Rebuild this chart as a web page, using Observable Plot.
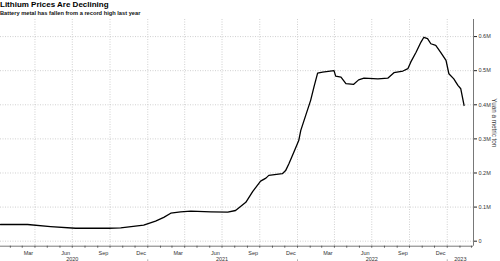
<!DOCTYPE html>
<html><head><meta charset="utf-8">
<script src="https://cdn.jsdelivr.net/npm/d3@7"></script>
<script src="https://cdn.jsdelivr.net/npm/@observablehq/plot@0.6"></script>
<style>
body{margin:0;background:#fff;width:500px;height:261px;overflow:hidden;font-family:"Liberation Sans",Arial,sans-serif}
#t{font-weight:bold;font-size:8px;line-height:9px;height:9px;color:#000;white-space:nowrap}
#s{font-weight:bold;font-size:5.7px;line-height:8px;height:8px;color:#111;white-space:nowrap}
svg{display:block}
</style></head><body>
<div id="t">Lithium Prices Are Declining</div>
<div id="s">Battery metal has fallen from a record high last year</div>
<div id="c"></div>
<script>
const dates = ["2020-01-08","2020-03-14","2020-05-09","2020-07-09","2020-09-28","2020-10-27","2020-12-22",
"2021-01-20","2021-02-09","2021-02-26","2021-03-22","2021-04-16","2021-06-04","2021-07-15","2021-08-03",
"2021-08-28","2021-09-14","2021-10-03","2021-10-16","2021-10-23","2021-11-25","2021-12-03","2021-12-11",
"2021-12-23","2022-01-04","2022-01-09","2022-01-21","2022-02-02","2022-02-10","2022-02-19","2022-03-03",
"2022-03-31","2022-04-04","2022-04-17","2022-04-29","2022-05-18","2022-05-30","2022-06-12","2022-07-16",
"2022-08-09","2022-08-24","2022-09-15","2022-09-27","2022-10-04","2022-10-17","2022-10-29","2022-11-05",
"2022-11-14","2022-11-22","2022-12-04","2022-12-16","2022-12-29","2023-01-05","2023-01-17","2023-01-27",
"2023-02-03","2023-02-11"];
const prices = [49000,49000,43000,38000,38000,39000,47000,
59000,70000,82000,86000,88000,86000,85000,90000,
114000,146000,176000,185000,193000,198000,207000,227000,
261000,295000,325000,369000,413000,452000,493000,496000,
500000,484000,481000,462000,460000,473000,478000,476000,
478000,494000,499000,506000,525000,554000,584000,598000,
594000,579000,574000,554000,530000,491000,476000,457000,
447000,398000];
const yTicks = [0,100000,200000,300000,400000,500000,600000];
const yTickLabels = ["0","0.1M","0.2M","0.3M","0.4M","0.5M","0.6M"];
const monthLabels = ["Mar","Jun","Sep","Dec","Mar","Jun","Sep","Dec","Mar","Jun","Sep","Dec"];
const monthLabelDates = ["2020-03-16","2020-06-15","2020-09-15","2020-12-16","2021-03-16","2021-06-15","2021-09-15","2021-12-16","2022-03-16","2022-06-15","2022-09-15","2022-12-16"];
const yearLabels = ["2020","2021","2022","2023"];
const yearLabelDates = ["2020-07-01","2021-07-01","2022-07-01","2023-02-02"];
const yearStarts = ["2021-01-01","2022-01-01","2023-01-01"];
const yTitle = "Yuan a metric ton";

const P = d3.utcParse("%Y-%m-%d");
const data = dates.map((d,i)=>({date:P(d), price:prices[i]}));
const x0 = P("2020-01-08"), x1 = P("2023-03-06");
const yMin = -14700, yMax = 650100;
const months = d3.utcMonth.range(d3.utcMonth.ceil(x0), x1);
const quarters = months.filter(d => d.getUTCMonth() % 3 === 0);
const fmt = new Map(yTicks.map((v,i)=>[v,yTickLabels[i]]));

const chart = Plot.plot({
  width: 500, height: 244,
  marginLeft: 0, marginRight: 27, marginTop: 2, marginBottom: 15.3,
  style: {fontFamily: "'Liberation Sans', Arial, sans-serif", background: "#fff", overflow: "visible"},
  x: {type: "utc", domain: [x0, x1]},
  y: {domain: [yMin, yMax]},
  marks: [
    Plot.ruleY(yTicks, {stroke: "#c4c4c4", strokeDasharray: "1,1.5", strokeWidth: 0.8}),
    Plot.ruleX(quarters, {stroke: "#c4c4c4", strokeDasharray: "1,1.5", strokeWidth: 0.8}),
    Plot.ruleY([yMin], {stroke: "#555", strokeWidth: 0.8}),
    Plot.ruleX([x1], {stroke: "#555", strokeWidth: 0.8}),
    Plot.ruleX(months, {y1: yMin, y2: yMin - 6000, stroke: "#444", strokeWidth: 0.8, clip: false}),
    Plot.ruleX(yearStarts.map(P), {y1: yMin - 40000, y2: yMin - 56000, stroke: "#999", strokeWidth: 0.8, clip: false}),
    Plot.axisY(yTicks, {anchor: "right", tickSize: 3, tickPadding: 2, fontSize: 5.5, fill: "#333", stroke: "#222", tickFormat: d => fmt.get(d), label: null}),
    Plot.axisX({ticks: [], label: null, tickSize: 0}),
    Plot.text(monthLabelDates.map(P), {x: d => d, text: (d,i) => monthLabels[i], frameAnchor: "bottom", dy: 4.5, lineAnchor: "top", fontSize: 5.5, fill: "#333"}),
    Plot.text(yearLabelDates.map(P), {x: d => d, text: (d,i) => yearLabels[i], frameAnchor: "bottom", dy: 10.5, lineAnchor: "top", fontSize: 5.5, fill: "#333"}),
    Plot.text([yTitle], {frameAnchor: "right", textAnchor: "middle", lineAnchor: "middle", dx: 20.5, dy: -10, rotate: 90, fontSize: 6.3, fill: "#333"}),
    Plot.line(data, {x: "date", y: "price", stroke: "#000", strokeWidth: 1.3, curve: "linear"})
  ]
});
document.getElementById("c").appendChild(chart);
</script>
</body></html>
